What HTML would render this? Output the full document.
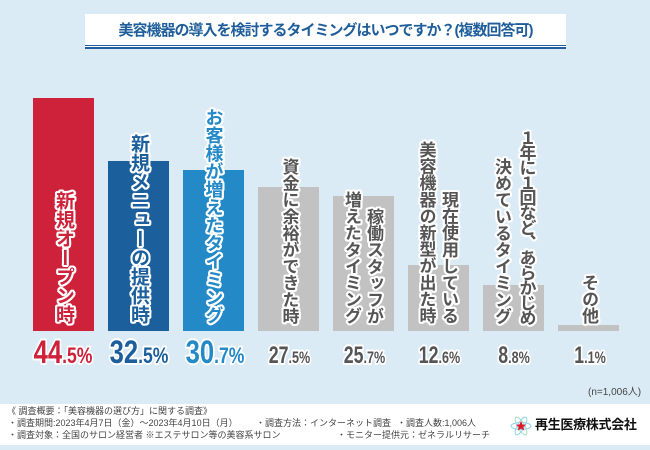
<!DOCTYPE html>
<html><head><meta charset="utf-8">
<style>
html,body{margin:0;padding:0}
body{width:650px;height:450px;background:#dbebf5;position:relative;overflow:hidden;font-family:"Liberation Sans","Noto Sans CJK JP",sans-serif}
.abs{position:absolute}
.bar{position:absolute;bottom:119px}
.v{position:absolute;writing-mode:vertical-rl;font-family:"Liberation Sans","Noto Sans CJK JP",sans-serif;font-weight:bold;line-height:1;white-space:nowrap;bottom:126px;
text-shadow:2px 0 #fff,-2px 0 #fff,0 2px #fff,0 -2px #fff,1.5px 1.5px #fff,-1.5px 1.5px #fff,1.5px -1.5px #fff,-1.5px -1.5px #fff,1px 2px #fff,-1px 2px #fff,1px -2px #fff,-1px -2px #fff,2px 1px #fff,-2px 1px #fff,2px -1px #fff,-2px -1px #fff}
.g{font-size:17px;color:#555;letter-spacing:-0.4px}
.ft{position:absolute;font-size:9px;color:#444;line-height:12px;white-space:nowrap;font-family:"Liberation Sans","Noto Sans CJK JP",sans-serif}
</style></head><body>

<!-- title -->
<div class="abs" style="left:85px;top:14px;width:481px;height:31px;background:#fff"></div>
<div class="abs" style="left:85px;top:45px;width:481px;height:1px;background:#1f5e9a"></div>
<div class="abs" style="left:85px;top:46px;width:481px;height:1px;background:#fff"></div>
<div class="abs" style="left:85px;top:47px;width:481px;height:2px;background:#1f5e9a"></div>
<div class="abs" style="left:85px;top:20px;width:481px;text-align:center;font-size:15px;line-height:22px;font-weight:bold;color:#1f5e9a;letter-spacing:-1px;white-space:nowrap">美容機器の導入を検討するタイミングはいつですか？(複数回答可)</div>

<!-- bars -->
<div class="bar" style="left:33px;width:61px;height:233px;background:#cd223a"></div>
<div class="bar" style="left:108px;width:61px;height:170px;background:#1b5f9c"></div>
<div class="bar" style="left:183px;width:61px;height:161px;background:#2489c7"></div>
<div class="bar" style="left:258px;width:61px;height:144px;background:#c2c2c2"></div>
<div class="bar" style="left:333px;width:61px;height:135px;background:#c2c2c2"></div>
<div class="bar" style="left:408px;width:61px;height:66px;background:#c2c2c2"></div>
<div class="bar" style="left:483px;width:61px;height:46px;background:#c2c2c2"></div>
<div class="bar" style="left:558px;width:61px;height:6px;background:#c2c2c2"></div>

<!-- vertical labels -->
<div class="v" style="left:54px;font-size:19px;color:#cd223a">新規オープン時</div>
<div class="v" style="left:129px;font-size:19px;color:#1b5f9c">新規メニューの提供時</div>
<div class="v" style="left:204.5px;font-size:18px;color:#2489c7">お客様が増えたタイミング</div>
<div class="v g" style="left:280.5px">資金に余裕ができた時</div>
<div class="v g" style="left:365px">稼働スタッフが</div>
<div class="v g" style="left:343px">増えたタイミング</div>
<div class="v g" style="left:440px">現在使用している</div>
<div class="v g" style="left:417.5px">美容機器の新型が出た時</div>
<div class="v g" style="left:517.5px;letter-spacing:-2px">１年に１回など、あらかじめ</div>
<div class="v g" style="left:493px">決めているタイミング</div>
<div class="v g" style="left:580px">その他</div>

<!-- percentages -->
<svg class="abs" style="left:0;top:0" width="650" height="450" xmlns="http://www.w3.org/2000/svg">
<g font-family="Liberation Sans, sans-serif" font-weight="bold" text-anchor="middle" stroke="#fff" stroke-width="4" stroke-linejoin="round" paint-order="stroke fill">
<text transform="translate(63,363) scale(0.8,1)" fill="#cd223a" font-size="32">44<tspan font-size="22">.5%</tspan></text>
<text transform="translate(139,363) scale(0.8,1)" fill="#1b5f9c" font-size="32">32<tspan font-size="22">.5%</tspan></text>
<text transform="translate(215,363) scale(0.8,1)" fill="#2489c7" font-size="32">30<tspan font-size="22">.7%</tspan></text>
<text transform="translate(289.5,363) scale(0.74,1)" fill="#555" font-size="24">27<tspan font-size="17">.5%</tspan></text>
<text transform="translate(364.5,363) scale(0.74,1)" fill="#555" font-size="24">25<tspan font-size="17">.7%</tspan></text>
<text transform="translate(439.5,363) scale(0.74,1)" fill="#555" font-size="24">12<tspan font-size="17">.6%</tspan></text>
<text transform="translate(514,363) scale(0.74,1)" fill="#555" font-size="24">8<tspan font-size="17">.8%</tspan></text>
<text transform="translate(590,363) scale(0.74,1)" fill="#555" font-size="24">1<tspan font-size="17">.1%</tspan></text>
</g>
</svg>

<div class="abs" style="left:588px;top:387px;font-size:10px;color:#444;line-height:12px;white-space:nowrap">(n=1,006人)</div>

<!-- footer -->
<div class="abs" style="left:0;top:404px;width:650px;height:41px;background:#fff"></div>
<div class="ft" style="left:7px;top:405px">《 調査概要：「美容機器の選び方」に関する調査》</div>
<div class="ft" style="left:8px;top:417px">・調査期間:2023年4月7日（金）～2023年4月10日（月）</div>
<div class="ft" style="left:256px;top:417px">・調査方法：インターネット調査</div>
<div class="ft" style="left:397px;top:417px">・調査人数:1,006人</div>
<div class="ft" style="left:8px;top:429px">・調査対象：全国のサロン経営者 ※エステサロン等の美容系サロン</div>
<div class="ft" style="left:337px;top:429px">・モニター提供元：ゼネラルリサーチ</div>

<svg class="abs" style="left:509px;top:415px" width="24" height="22" xmlns="http://www.w3.org/2000/svg">
<g fill="none" stroke-width="1">
<ellipse cx="12" cy="11" rx="10" ry="3.5" stroke="#8fd3ec"/>
<ellipse cx="12" cy="11" rx="10" ry="3.5" stroke="#a6dcc0" transform="rotate(60 12 11)"/>
<ellipse cx="12" cy="11" rx="10" ry="3.5" stroke="#8fd3ec" transform="rotate(120 12 11)"/>
</g>
<polygon points="12,6 13.5,9.5 17,9.8 14.3,12 15.2,15.5 12,13.6 8.8,15.5 9.7,12 7,9.8 10.5,9.5" fill="#e0182d"/>
</svg>
<div class="abs" style="left:535px;top:417px;font-size:13px;line-height:16px;font-weight:bold;color:#111;white-space:nowrap;letter-spacing:-0.3px">再生医療株式会社</div>

</body></html>
